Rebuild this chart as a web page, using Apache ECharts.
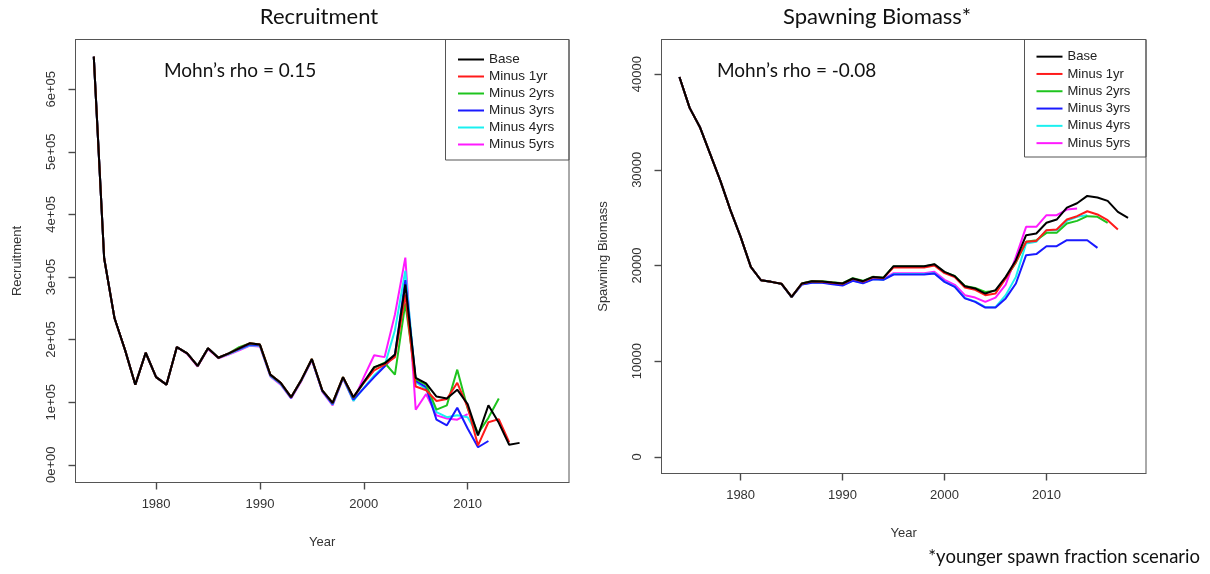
<!DOCTYPE html>
<html>
<head>
<meta charset="utf-8">
<title>Retrospective analysis</title>
<script src="https://cdn.jsdelivr.net/npm/echarts@6.0.0/dist/echarts.min.js"></script>
<style>
    html, body { margin: 0; padding: 0; background: #fff; }
    #chart { width: 1210px; height: 574px; }
</style>
</head>
<body>
<div id="chart"></div>
<script>
// Retrospective peels — recruitment (left) and spawning biomass (right).

const SERIES_NAMES = ['Base', 'Minus 1yr', 'Minus 2yrs', 'Minus 3yrs', 'Minus 4yrs', 'Minus 5yrs'];
const SERIES_COLORS = ['#000000', '#ff1a1a', '#1ec41e', '#1a1aff', '#1af0f0', '#ff1aff'];

const xTicks = [1980, 1990, 2000, 2010];
const recTicks = [0, 100000, 200000, 300000, 400000, 500000, 600000];
const ssbTicks = [0, 10000, 20000, 30000, 40000];

const recYears = [1974, 1975, 1976, 1977, 1978, 1979, 1980, 1981, 1982, 1983,
    1984, 1985, 1986, 1987, 1988, 1989, 1990, 1991, 1992, 1993,
    1994, 1995, 1996, 1997, 1998, 1999, 2000, 2001, 2002, 2003,
    2004, 2005, 2006, 2007, 2008, 2009, 2010, 2011, 2012, 2013,
    2014, 2015];

const recBase = [652000, 330000, 234000, 184000, 128000, 179000, 140000, 128000, 188000, 178000,
    158000, 186000, 171000, 178000, 186000, 194000, 192000, 144000, 131000, 108000,
    136000, 169000, 119000, 99000, 140000, 108000, 132000, 156000, 162000, 176000,
    288000, 139000, 130000, 109000, 106000, 120000, 97000, 47000, 95000, 67000,
    32000, 35000];
const recMinus1 = [652000, 330000, 234000, 184000, 128000, 179000, 140000, 128000, 188000, 178000,
    158000, 186000, 171000, 178000, 186000, 194000, 192000, 144000, 131000, 108000,
    136000, 169000, 119000, 99000, 140000, 108000, 131000, 151000, 160000, 172000,
    272000, 125000, 119000, 102000, 105000, 131000, 92000, 31000, 68000, 73000,
    36000];
const recMinus2 = [652000, 330000, 234000, 184000, 128000, 179000, 140000, 128000, 188000, 178000,
    158000, 186000, 171000, 178000, 188000, 194000, 192000, 144000, 131000, 108000,
    136000, 169000, 119000, 99000, 140000, 107000, 131000, 155000, 163000, 144000,
    258000, 137000, 128000, 88000, 95000, 152000, 90000, 50000, 75000, 106000];
const recMinus3 = [652000, 330000, 234000, 184000, 128000, 179000, 140000, 128000, 188000, 178000,
    158000, 186000, 171000, 178000, 185000, 192000, 191000, 143000, 130000, 107000,
    136000, 168000, 118000, 97000, 139000, 104000, 122000, 140000, 157000, 176000,
    295000, 134000, 124000, 72000, 63000, 91000, 58000, 28000, 38000];
const recMinus4 = [652000, 330000, 234000, 184000, 128000, 179000, 140000, 128000, 188000, 178000,
    158000, 186000, 171000, 177000, 184000, 191000, 190000, 142000, 129000, 107000,
    135000, 168000, 118000, 96000, 139000, 102000, 123000, 143000, 158000, 215000,
    310000, 132000, 121000, 84000, 76000, 79000, 76000, 47000];
const recMinus5 = [652000, 330000, 234000, 184000, 128000, 179000, 140000, 128000, 188000, 177000,
    157000, 185000, 170000, 176000, 183000, 190000, 189000, 141000, 128000, 106000,
    134000, 167000, 117000, 95000, 138000, 102000, 140000, 175000, 172000, 240000,
    331000, 88000, 113000, 79000, 74000, 72000, 81000];

const ssbYears = [1974, 1975, 1976, 1977, 1978, 1979, 1980, 1981, 1982, 1983,
    1984, 1985, 1986, 1987, 1988, 1989, 1990, 1991, 1992, 1993,
    1994, 1995, 1996, 1997, 1998, 1999, 2000, 2001, 2002, 2003,
    2004, 2005, 2006, 2007, 2008, 2009, 2010, 2011, 2012, 2013,
    2014, 2015, 2016, 2017, 2018];

const ssbBase = [39700, 36470, 34480, 31700, 28900, 25780, 22990, 19850, 18460, 18290,
    18100, 16720, 18120, 18360, 18330, 18220, 18120, 18640, 18360, 18810,
    18710, 19930, 19930, 19930, 19930, 20140, 19330, 18890, 17840, 17600,
    17070, 17430, 18810, 20550, 23170, 23340, 24460, 24800, 26050, 26500,
    27270, 27100, 26750, 25600, 24980];
const ssbMinus1 = [39700, 36470, 34480, 31700, 28900, 25780, 22990, 19850, 18460, 18290,
    18100, 16720, 18100, 18340, 18310, 18200, 18090, 18600, 18320, 18770,
    18680, 19800, 19800, 19800, 19800, 20000, 19200, 18800, 17700, 17450,
    16900, 17070, 18640, 20380, 22470, 22570, 23690, 23760, 24800, 25150,
    25670, 25330, 24730, 23750];
const ssbMinus2 = [39700, 36470, 34480, 31700, 28900, 25780, 22990, 19850, 18460, 18290,
    18100, 16720, 18120, 18380, 18360, 18260, 18150, 18680, 18400, 18820,
    18730, 19900, 19900, 19900, 19900, 20100, 19300, 18900, 17850, 17650,
    17240, 17350, 18700, 20300, 22470, 22640, 23410, 23410, 24390, 24660,
    25150, 25090, 24460];
const ssbMinus3 = [39700, 36470, 34480, 31700, 28900, 25780, 22990, 19850, 18460, 18290,
    18080, 16700, 18000, 18200, 18200, 18050, 17900, 18400, 18150, 18550,
    18500, 19060, 19060, 19060, 19060, 19160, 18290, 17770, 16560, 16200,
    15610, 15610, 16560, 18120, 21080, 21190, 22020, 22020, 22640, 22640,
    22640, 21840];
const ssbMinus4 = [39700, 36470, 34480, 31700, 28900, 25780, 22990, 19850, 18460, 18290,
    18080, 16700, 18020, 18220, 18220, 18080, 17950, 18430, 18180, 18580,
    18520, 19100, 19100, 19100, 19100, 19200, 18320, 17800, 16600, 16250,
    15640, 15640, 16900, 18810, 22300, 22470, 23690, 23690, 24660, 25090,
    25260];
const ssbMinus5 = [39700, 36470, 34480, 31700, 28900, 25780, 22990, 19850, 18460, 18290,
    18090, 16710, 18050, 18250, 18250, 18120, 18000, 18480, 18230, 18630,
    18570, 19200, 19200, 19200, 19200, 19350, 18500, 17980, 16900, 16650,
    16200, 16650, 18000, 20900, 24040, 24040, 25260, 25260, 25850, 25950];

const AXIS_FONT = '"Liberation Sans", Arial, sans-serif';
const NOTE_FONT = 'Lato, "Open Sans", sans-serif';
const AXIS_GREY = '#555';
const TEXT_GREY = '#333';

const pairs = (years, values) => values.map((v, i) => [years[i], v]);

function buildAxes(gridIndex, ticks, yMin, yMax, yName, yFormat) {
    const line = { show: true, onZero: false, lineStyle: { color: AXIS_GREY, width: 1 } };
    // a touch over 1px so the ticks survive antialiasing at fractional positions
    const tickStyle = { show: true, inside: false, length: 7, lineStyle: { color: '#4a4a4a', width: 1.4 } };
    const labelStyle = { color: TEXT_GREY, fontFamily: AXIS_FONT, fontSize: 13 };
    return {
        x: {
            type: 'value', gridIndex, min: 1972.24, max: 2019.76, position: 'bottom',
            name: 'Year', nameLocation: 'middle', nameGap: 53,
            nameTextStyle: { ...labelStyle },
            axisLine: line,
            axisTick: { ...tickStyle, customValues: xTicks },
            axisLabel: { ...labelStyle, margin: 15, customValues: xTicks, formatter: v => String(v) },
            splitLine: { show: false }
        },
        y: {
            type: 'value', gridIndex, min: yMin, max: yMax, position: 'left',
            name: yName, nameLocation: 'middle', nameGap: 52,
            nameTextStyle: { ...labelStyle },
            axisLine: line,
            axisTick: { ...tickStyle, customValues: ticks },
            axisLabel: { ...labelStyle, rotate: 90, margin: 18, customValues: ticks, formatter: yFormat },
            splitLine: { show: false }
        }
    };
}

function buildSeries(axisIndex, years, columns) {
    // Peels first, base last so the black line sits on top.
    return columns.map((values, i) => ({
        name: SERIES_NAMES[i],
        type: 'line',
        xAxisIndex: axisIndex,
        yAxisIndex: axisIndex,
        data: pairs(years, values),
        showSymbol: false,
        symbol: 'none',
        lineStyle: { width: 2, color: SERIES_COLORS[i] },
        itemStyle: { color: SERIES_COLORS[i] },
        z: 10 - i
    })).reverse();
}

function buildLegend(left, top, padding, gap, lineHeight, fontSize) {
    return {
        left, top, orient: 'vertical', padding,
        data: SERIES_NAMES,
        icon: 'rect', itemWidth: 26, itemHeight: 2, itemGap: 0, itemTextGap: gap,
        selectedMode: false,
        textStyle: { color: '#222', fontFamily: AXIS_FONT, fontSize, lineHeight }
    };
}

const recAxes = buildAxes(0, recTicks, -28300, 679400, 'Recruitment',
    v => (v === 0 ? '0e+00' : `${v / 100000}e+05`));
const ssbAxes = buildAxes(1, ssbTicks, -1735, 43615, 'Spawning Biomass', v => String(v));

const noteText = (text, x, y, size, align = 'left') => ({
    type: 'text', x, y,
    style: { text, fill: '#111', font: `${size}px ${NOTE_FONT}`, textAlign: align, textVerticalAlign: 'middle' }
});
const legendBox = (x, y, width, height) => ({
    type: 'rect', z: 5,
    shape: { x, y, width, height },
    style: { fill: 'none', stroke: AXIS_GREY, lineWidth: 1 }
});

const chart = echarts.init(document.getElementById('chart'), null, { renderer: 'canvas' });
chart.setOption({
    backgroundColor: '#fff',
    animation: false,
    grid: [
        { left: 75.5, top: 39.5, width: 493.5, height: 443, show: true, borderColor: AXIS_GREY, borderWidth: 1 },
        { left: 661.5, top: 39.5, width: 484.5, height: 434, show: true, borderColor: AXIS_GREY, borderWidth: 1 }
    ],
    xAxis: [recAxes.x, ssbAxes.x],
    yAxis: [recAxes.y, ssbAxes.y],
    legend: [
        buildLegend(445, 39, [12, 4, 7, 13], 12, 17, 13.5),
        buildLegend(1024, 39, [9, 4, 4, 12.5], 11.5, 17.3, 13)
    ],
    graphic: [
        legendBox(445.5, 39.5, 123.5, 120.5),
        legendBox(1024.5, 39.5, 121.5, 117.5),
        noteText('Recruitment', 319, 17, 22, 'center'),
        noteText('Spawning Biomass*', 877, 17, 22, 'center'),
        noteText('Mohn’s rho = 0.15', 164, 71, 19),
        noteText('Mohn’s rho = -0.08', 717, 71, 19),
        noteText('*younger spawn fraction scenario', 1200, 557, 18.5, 'right')
    ],
    series: [
        ...buildSeries(0, recYears, [recBase, recMinus1, recMinus2, recMinus3, recMinus4, recMinus5]),
        ...buildSeries(1, ssbYears, [ssbBase, ssbMinus1, ssbMinus2, ssbMinus3, ssbMinus4, ssbMinus5])
    ]
});
</script>
</body>
</html>
